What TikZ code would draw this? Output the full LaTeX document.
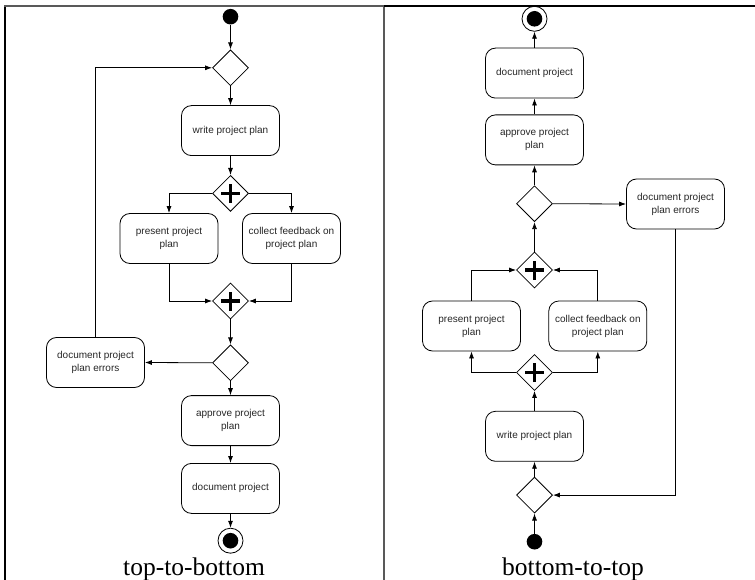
\documentclass[tikz,border=0pt]{standalone}
\usepackage{fontspec}
\setmainfont{Liberation Serif}
\setsansfont{Liberation Sans}
\usetikzlibrary{shapes.geometric,arrows.meta,positioning}

\tikzset{
  activity/.style = {shape=rectangle, rounded corners=10pt, draw, align=center,
    minimum width=98pt, minimum height=50pt, inner sep=2pt, text=black!85,
    font=\sffamily\fontsize{10}{13}\selectfont},
  decision/.style = {shape=diamond, draw, minimum width=36pt, minimum height=36pt, inner sep=0pt},
  forkjoin/.style = {decision, path picture={
      \draw[line width=3.6pt] (path picture bounding box.center) ++(-9.5pt,0) -- ++(19pt,0);
      \draw[line width=3.6pt] (path picture bounding box.center) ++(0,-9.5pt) -- ++(0,19pt);}},
  initial/.style = {shape=circle, fill, minimum size=15.6pt, inner sep=0pt},
  final/.style = {shape=circle, draw, minimum size=25pt, inner sep=0pt, path picture={
      \fill (path picture bounding box.center) circle (7.8pt);}},
  flow/.style = {-{Latex[length=7pt,width=5pt]}},
  panel/.style = {font=\fontsize{25.5}{28}\selectfont, anchor=base}
}

\begin{document}
\begin{tikzpicture}[x=1pt, y=-1pt, line width=0.8pt]
  \useasboundingbox (0,0) rectangle (755,580);
  % frame
  \draw[line width=2pt] (4.5,580) -- (4.5,6.5);
  \draw[line width=2pt, black!65] (4,6.5) -- (384,6.5);
  \draw[line width=2pt, black!65] (384,6) -- (384,580);
  \draw[line width=2pt] (384,6.5) -- (755,6.5);

  % top-to-bottom
  \node[initial] (start1) at (230.5,16.7) {};
  \node[decision, below=24.5pt of start1] (dec1) {};
  \node[activity, below=19pt of dec1] (write1) {write project plan};
  \node[forkjoin, below=19pt of write1] (fork1) {};
  \node[activity, at={(169,238.5)}] (pres1) {present project\\plan};
  \node[activity, at={(291.5,238.5)}] (coll1) {collect feedback on\\project plan};
  \node[forkjoin, at={(230.5,301)}] (join1) {};
  \node[decision, below=25pt of join1] (dec2) {};
  \node[activity, at={(95.5,362.5)}] (err1) {document project\\plan errors};
  \node[activity, below=14pt of dec2] (appr1) {approve project\\plan};
  \node[activity, below=17pt of appr1] (doc1) {document project};
  \node[final, below=14pt of doc1] (end1) {};
  \node[panel] (lbl1) at (194,575) {top-to-bottom};

  \draw[flow] (start1) -- (dec1);
  \draw[flow] (dec1) -- (write1);
  \draw[flow] (write1) -- (fork1);
  \draw[flow] (fork1.west) -| (pres1.north);
  \draw[flow] (fork1.east) -| (coll1.north);
  \draw[flow] (pres1.south) |- (join1.west);
  \draw[flow] (coll1.south) |- (join1.east);
  \draw[flow] (join1) -- (dec2);
  \draw[flow] (dec2.west) -- (err1.east);
  \draw[flow] (err1.north) |- (dec1.west);
  \draw[flow] (dec2) -- (appr1);
  \draw[flow] (appr1) -- (doc1);
  \draw[flow] (doc1) -- (end1);

  % bottom-to-top
  \node[initial] (start2) at (534.5,541.7) {};
  \node[decision, above=20pt of start2] (dec4) {};
  \node[activity, above=15pt of dec4] (write2) {write project plan};
  \node[forkjoin, above=20pt of write2] (fork2) {};
  \node[activity, at={(471.5,326)}] (pres2) {present project\\plan};
  \node[activity, at={(597.8,326)}] (coll2) {collect feedback on\\project plan};
  \node[forkjoin, at={(534.5,270)}] (join2) {};
  \node[decision, above=29.5pt of join2] (dec3) {};
  \node[activity, at={(675.5,204)}] (err2) {document project\\plan errors};
  \node[activity, above=20pt of dec3] (appr2) {approve project\\plan};
  \node[activity, above=16pt of appr2] (doc2) {document project};
  \node[final, above=16pt of doc2] (end2) {};
  \node[panel] (lbl2) at (573,575) {bottom-to-top};

  \draw[flow] (start2) -- (dec4);
  \draw[flow] (dec4) -- (write2);
  \draw[flow] (write2) -- (fork2);
  \draw[flow] (fork2.west) -| (pres2.south);
  \draw[flow] (fork2.east) -| (coll2.south);
  \draw[flow] (pres2.north) |- (join2.west);
  \draw[flow] (coll2.north) |- (join2.east);
  \draw[flow] (join2) -- (dec3);
  \draw[flow] (dec3.east) -- (err2.west);
  \draw[flow] (err2.south) |- (dec4.east);
  \draw[flow] (dec3) -- (appr2);
  \draw[flow] (appr2) -- (doc2);
  \draw[flow] (doc2) -- (end2);
\end{tikzpicture}
\end{document}
